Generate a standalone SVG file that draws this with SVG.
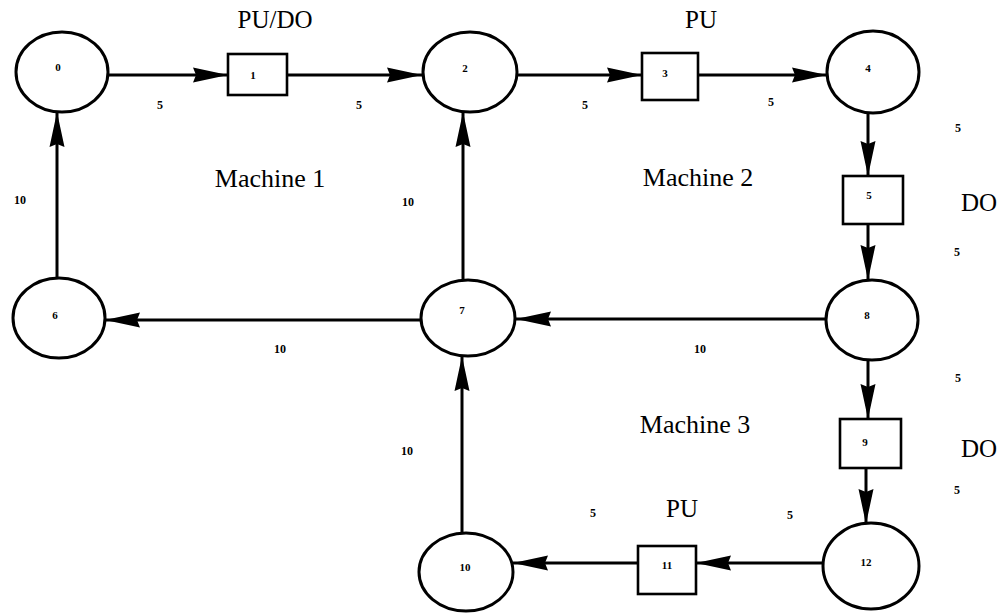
<svg xmlns="http://www.w3.org/2000/svg" width="1004" height="613" viewBox="0 0 1004 613">
  <style>
    .place { fill: #fff; stroke: #000; stroke-width: 3; }
    .trans { fill: #fff; stroke: #000; stroke-width: 2.6; }
    .edge { fill: none; stroke: #000; stroke-width: 3; marker-end: url(#head); }
    .id { font-family: "Liberation Serif", serif; font-weight: bold; font-size: 11px; text-anchor: middle; fill: #000; }
    .w { font-family: "Liberation Serif", serif; font-weight: bold; font-size: 12px; text-anchor: middle; fill: #000; }
    .tag { font-family: "Liberation Serif", serif; font-size: 25px; text-anchor: middle; fill: #000; }
    .area { font-family: "Liberation Serif", serif; font-size: 26px; text-anchor: middle; fill: #000; }
  </style>
  <defs>
    <marker id="head" markerUnits="userSpaceOnUse" markerWidth="36" markerHeight="16" refX="35" refY="8" orient="auto">
      <path d="M0,0.5 L35,8 L0,15.5 L3,8 z" fill="#000"/>
    </marker>
  </defs>
  <rect width="1004" height="613" fill="#fff"/>

  <!-- connectors -->
  <g id="connectors">
    <line class="edge" x1="108" y1="75" x2="228" y2="75"/>
    <line class="edge" x1="287" y1="75" x2="422" y2="75"/>
    <line class="edge" x1="517" y1="75" x2="642" y2="75"/>
    <line class="edge" x1="698" y1="75" x2="827" y2="75"/>
    <line class="edge" x1="868" y1="113" x2="868" y2="176"/>
    <line class="edge" x1="868" y1="224" x2="868" y2="280"/>
    <line class="edge" x1="826" y1="319" x2="516" y2="319"/>
    <line class="edge" x1="421" y1="320" x2="105" y2="320"/>
    <line class="edge" x1="57" y1="278" x2="57" y2="112"/>
    <line class="edge" x1="463" y1="280" x2="463" y2="112"/>
    <line class="edge" x1="462" y1="533" x2="462" y2="356"/>
    <line class="edge" x1="868" y1="360" x2="868" y2="419"/>
    <line class="edge" x1="866" y1="468" x2="866" y2="524"/>
    <line class="edge" x1="823" y1="563" x2="696" y2="563"/>
    <line class="edge" x1="638" y1="563" x2="513" y2="563"/>
  </g>

  <!-- places -->
  <g id="p0"><ellipse class="place" cx="62" cy="72" rx="46" ry="40"/><text class="id" x="58" y="71">0</text></g>
  <g id="p2"><ellipse class="place" cx="470" cy="72" rx="47" ry="40"/><text class="id" x="465" y="72">2</text></g>
  <g id="p4"><ellipse class="place" cx="873" cy="72" rx="46" ry="41"/><text class="id" x="868" y="72">4</text></g>
  <g id="p6"><ellipse class="place" cx="59" cy="318" rx="46" ry="40"/><text class="id" x="55" y="319">6</text></g>
  <g id="p7"><ellipse class="place" cx="468" cy="318" rx="47" ry="38"/><text class="id" x="462" y="314">7</text></g>
  <g id="p8"><ellipse class="place" cx="872" cy="320" rx="46" ry="40"/><text class="id" x="867" y="319">8</text></g>
  <g id="p10"><ellipse class="place" cx="466" cy="572" rx="47" ry="39"/><text class="id" x="465" y="571">10</text></g>
  <g id="p12"><ellipse class="place" cx="871" cy="566" rx="48" ry="43"/><text class="id" x="866" y="566">12</text></g>

  <!-- transitions -->
  <g id="t1"><rect class="trans" x="228" y="54" width="59" height="41"/><text class="id" x="253" y="79">1</text></g>
  <g id="t3"><rect class="trans" x="642" y="53" width="56" height="47"/><text class="id" x="665" y="77">3</text></g>
  <g id="t5"><rect class="trans" x="843" y="176" width="60" height="48"/><text class="id" x="869" y="199">5</text></g>
  <g id="t9"><rect class="trans" x="840" y="419" width="61" height="49"/><text class="id" x="865" y="446">9</text></g>
  <g id="t11"><rect class="trans" x="638" y="546" width="58" height="48"/><text class="id" x="667" y="569">11</text></g>

  <!-- arc weights -->
  <g id="weights">
    <text class="w" x="160" y="109">5</text>
    <text class="w" x="359" y="109">5</text>
    <text class="w" x="585" y="109">5</text>
    <text class="w" x="771" y="106">5</text>
    <text class="w" x="958" y="132">5</text>
    <text class="w" x="957" y="256">5</text>
    <text class="w" x="958" y="382">5</text>
    <text class="w" x="957" y="494">5</text>
    <text class="w" x="593" y="517">5</text>
    <text class="w" x="790" y="519">5</text>
    <text class="w" x="20" y="204">10</text>
    <text class="w" x="408" y="206">10</text>
    <text class="w" x="280" y="353">10</text>
    <text class="w" x="700" y="353">10</text>
    <text class="w" x="407" y="455">10</text>
  </g>

  <!-- operation tags and machine areas -->
  <g id="labels">
    <text class="tag" x="275" y="28">PU/DO</text>
    <text class="tag" x="701" y="28">PU</text>
    <text class="tag" x="979" y="211">DO</text>
    <text class="tag" x="979" y="457">DO</text>
    <text class="tag" x="682" y="517">PU</text>
    <text class="area" x="270" y="187">Machine 1</text>
    <text class="area" x="698" y="186">Machine 2</text>
    <text class="area" x="695" y="433">Machine 3</text>
  </g>
</svg>
